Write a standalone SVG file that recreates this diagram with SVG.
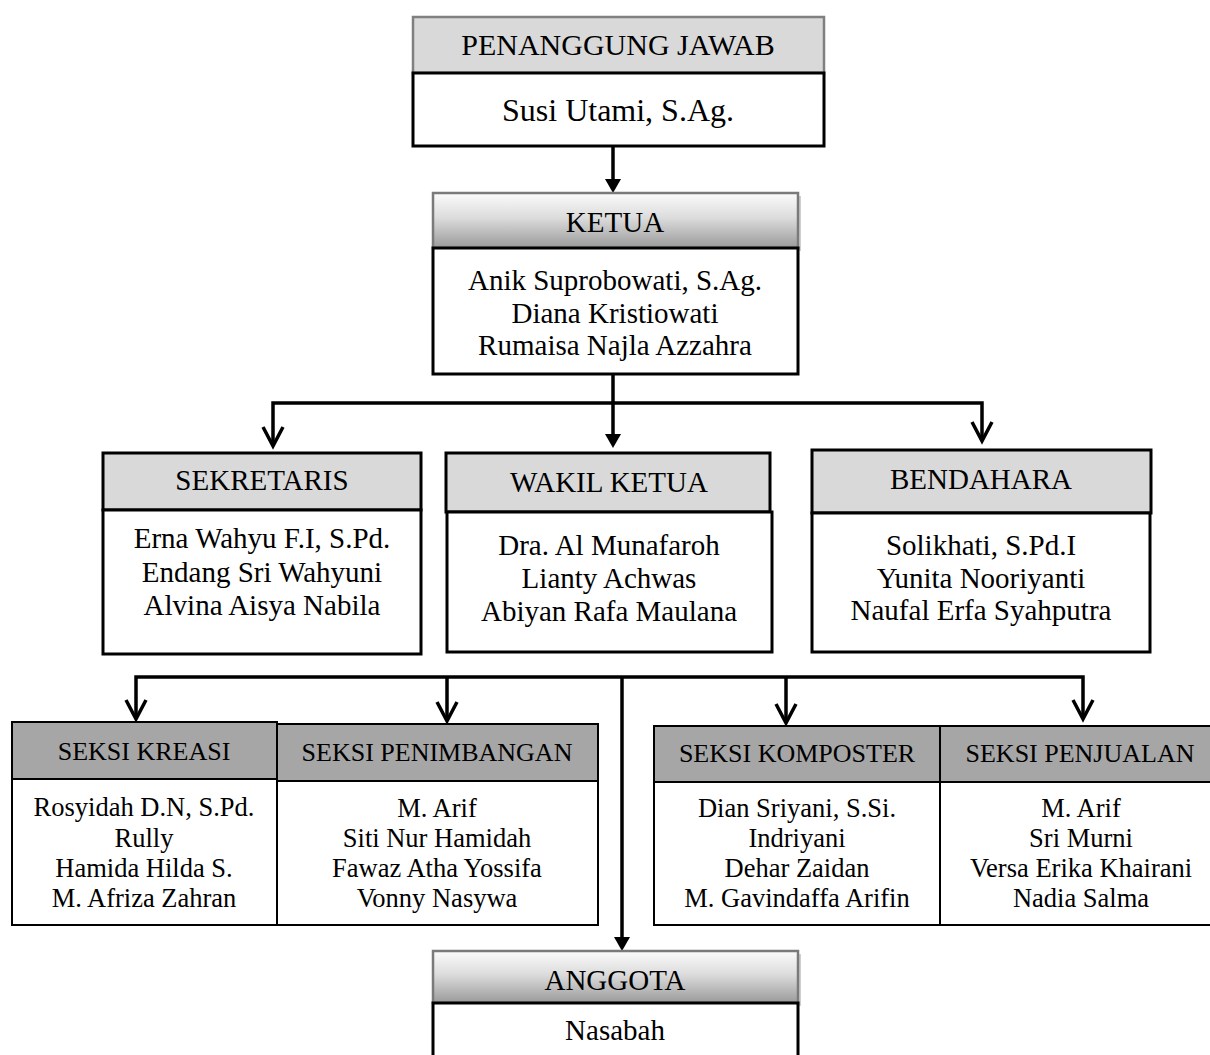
<svg xmlns="http://www.w3.org/2000/svg" width="1210" height="1055" viewBox="0 0 1210 1055">
<defs>
<linearGradient id="grad" x1="0" y1="0" x2="0" y2="1">
<stop offset="0" stop-color="#fbfbfb"/>
<stop offset="0.45" stop-color="#dcdcdc"/>
<stop offset="1" stop-color="#9a9a9a"/>
</linearGradient>
<style>
text{font-family:"Liberation Serif","Times New Roman",serif;fill:#000;text-anchor:middle}
.t32{font-size:32px}
.t30{font-size:30px}
.t29{font-size:29px}
.t26{font-size:26px}
.t265{font-size:26.5px}
.hl{fill:#d9d9d9;stroke:#000;stroke-width:3}
.hlg{fill:#d9d9d9;stroke:#808080;stroke-width:2.5}
.hg{fill:url(#grad);stroke:#7a7a7a;stroke-width:2.5}
.hd{fill:#a6a6a6;stroke:#000;stroke-width:2}
.body{fill:#fff;stroke:#000;stroke-width:3}
.bodys{fill:#fff;stroke:#000;stroke-width:2}
.shadow{fill:#cfcfcf}
.ln{fill:none;stroke:#000;stroke-width:3.5}
.v{fill:none;stroke:#000;stroke-width:3.5;stroke-linejoin:miter}
.tri{fill:#000}
</style>
</defs>
<rect width="1210" height="1055" fill="#fff"/>

<g id="connectors">
<line class="ln" x1="613" y1="146" x2="613" y2="180"/>
<polygon class="tri" points="605,179 621,179 613,193"/>
<line class="ln" x1="613" y1="374" x2="613" y2="435"/>
<polygon class="tri" points="605,434 621,434 613,448"/>
<polyline class="ln" points="273,445 273,403 982,403 982,440"/>
<polyline class="v" points="263,427 273,446 283,427"/>
<polyline class="v" points="972,422 982,441 992,422"/>
<polyline class="ln" points="136,718 136,677 1083,677 1083,718"/>
<line class="ln" x1="447" y1="677" x2="447" y2="720"/>
<line class="ln" x1="786" y1="677" x2="786" y2="722"/>
<polyline class="v" points="126,700 136,719 146,700"/>
<polyline class="v" points="437,702 447,721 457,702"/>
<polyline class="v" points="776,704 786,723 796,704"/>
<polyline class="v" points="1073,700 1083,719 1093,700"/>
<line class="ln" x1="622" y1="677" x2="622" y2="938"/>
<polygon class="tri" points="614,937 630,937 622,951"/>
</g>

<g id="penanggung-jawab">
<rect class="hlg" x="413" y="17" width="411" height="56"/>
<text class="t30" x="618" y="55">PENANGGUNG JAWAB</text>
<rect class="body" x="413" y="73" width="411" height="73"/>
<text class="t32" x="618" y="121">Susi Utami, S.Ag.</text>
</g>

<g id="ketua">
<rect class="shadow" x="436" y="196" width="365" height="55"/>
<rect class="hg" x="433" y="193" width="365" height="55"/>
<text class="t29" x="615" y="232">KETUA</text>
<rect class="body" x="433" y="248" width="365" height="126"/>
<text class="t29" x="615" y="290">Anik Suprobowati, S.Ag.</text>
<text class="t29" x="615" y="323">Diana Kristiowati</text>
<text class="t29" x="615" y="355">Rumaisa Najla Azzahra</text>
</g>

<g id="sekretaris">
<rect class="hl" x="103" y="453" width="318" height="57"/>
<text class="t29" x="262" y="490">SEKRETARIS</text>
<rect class="body" x="103" y="510" width="318" height="144"/>
<text class="t29" x="262" y="548">Erna Wahyu F.I, S.Pd.</text>
<text class="t29" x="262" y="582">Endang Sri Wahyuni</text>
<text class="t29" x="262" y="615">Alvina Aisya Nabila</text>
</g>

<g id="wakil-ketua">
<rect class="hl" x="446" y="453" width="324" height="59"/>
<text class="t29" x="609" y="492">WAKIL KETUA</text>
<rect class="body" x="447" y="512" width="325" height="140"/>
<text class="t29" x="609" y="555">Dra. Al Munafaroh</text>
<text class="t29" x="609" y="588">Lianty Achwas</text>
<text class="t29" x="609" y="621">Abiyan Rafa Maulana</text>
</g>

<g id="bendahara">
<rect class="hl" x="812" y="450" width="339" height="63"/>
<text class="t29" x="981" y="489">BENDAHARA</text>
<rect class="body" x="812" y="513" width="338" height="139"/>
<text class="t29" x="981" y="555">Solikhati, S.Pd.I</text>
<text class="t29" x="981" y="588">Yunita Nooriyanti</text>
<text class="t29" x="981" y="620">Naufal Erfa Syahputra</text>
</g>

<g id="seksi-kreasi">
<rect class="hd" x="12" y="722" width="265" height="57"/>
<text class="t26" x="144" y="760">SEKSI KREASI</text>
<rect class="bodys" x="12" y="779" width="265" height="146"/>
<text class="t265" x="144" y="816">Rosyidah D.N, S.Pd.</text>
<text class="t265" x="144" y="847">Rully</text>
<text class="t265" x="144" y="877">Hamida Hilda S.</text>
<text class="t265" x="144" y="907">M. Afriza Zahran</text>
</g>

<g id="seksi-penimbangan">
<rect class="hd" x="277" y="724" width="321" height="57"/>
<text class="t26" x="437" y="761">SEKSI PENIMBANGAN</text>
<rect class="bodys" x="277" y="781" width="321" height="144"/>
<text class="t265" x="437" y="817">M. Arif</text>
<text class="t265" x="437" y="847">Siti Nur Hamidah</text>
<text class="t265" x="437" y="877">Fawaz Atha Yossifa</text>
<text class="t265" x="437" y="907">Vonny Nasywa</text>
</g>

<g id="seksi-komposter">
<rect class="hd" x="654" y="726" width="286" height="56"/>
<text class="t26" x="797" y="762">SEKSI KOMPOSTER</text>
<rect class="bodys" x="654" y="782" width="286" height="143"/>
<text class="t265" x="797" y="817">Dian Sriyani, S.Si.</text>
<text class="t265" x="797" y="847">Indriyani</text>
<text class="t265" x="797" y="877">Dehar Zaidan</text>
<text class="t265" x="797" y="907">M. Gavindaffa Arifin</text>
</g>

<g id="seksi-penjualan">
<rect class="hd" x="940" y="726" width="282" height="56"/>
<text class="t26" x="1080" y="762">SEKSI PENJUALAN</text>
<rect class="bodys" x="940" y="782" width="282" height="143"/>
<text class="t265" x="1081" y="817">M. Arif</text>
<text class="t265" x="1081" y="847">Sri Murni</text>
<text class="t265" x="1081" y="877">Versa Erika Khairani</text>
<text class="t265" x="1081" y="907">Nadia Salma</text>
</g>

<g id="anggota">
<rect class="shadow" x="436" y="954" width="365" height="52"/>
<rect class="hg" x="433" y="951" width="365" height="52"/>
<text class="t29" x="615" y="990">ANGGOTA</text>
<rect class="body" x="433" y="1003" width="365" height="70"/>
<text class="t29" x="615" y="1040">Nasabah</text>
</g>
</svg>
